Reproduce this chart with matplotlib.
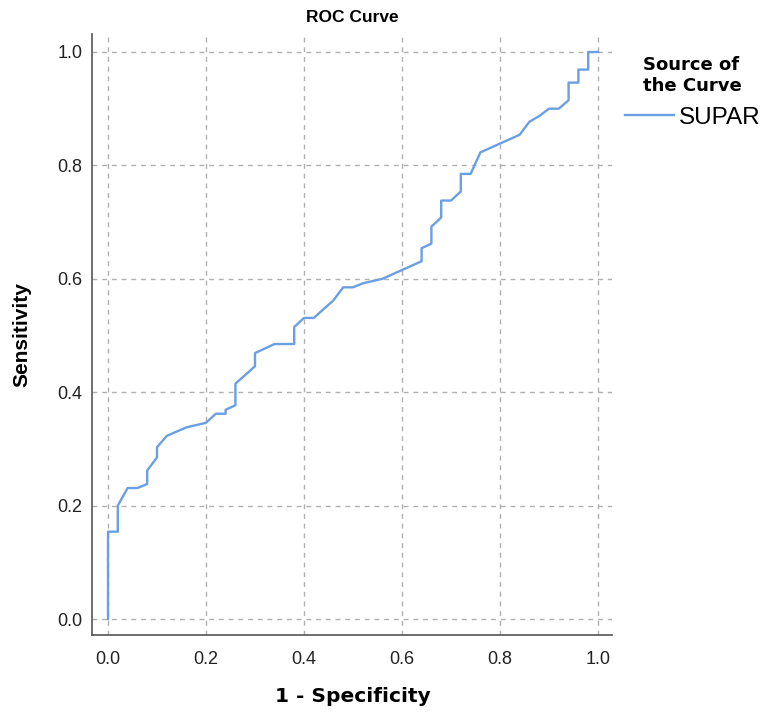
import matplotlib
matplotlib.use("Agg")
import matplotlib.pyplot as plt

fpr = [0.0, 0.0, 0.02, 0.02, 0.04, 0.06, 0.08, 0.08, 0.10, 0.10, 0.12, 0.16, 0.20,
       0.22, 0.24, 0.24, 0.26, 0.26, 0.29, 0.30, 0.30, 0.34, 0.38, 0.38, 0.40, 0.42,
       0.46, 0.48, 0.50, 0.52, 0.56, 0.64, 0.64, 0.66, 0.66, 0.68, 0.68, 0.70, 0.72,
       0.72, 0.74, 0.76, 0.84, 0.86, 0.88, 0.90, 0.92, 0.94, 0.94, 0.96, 0.96, 0.98,
       0.98, 1.0]
tpr = [0.0, 0.154, 0.154, 0.200, 0.231, 0.231, 0.238, 0.262, 0.285, 0.303, 0.323, 0.338,
       0.346, 0.362, 0.362, 0.369, 0.377, 0.415, 0.438, 0.446, 0.469, 0.485, 0.485, 0.515,
       0.531, 0.531, 0.562, 0.585, 0.585, 0.592, 0.600, 0.631, 0.654, 0.662, 0.692, 0.708,
       0.738, 0.738, 0.754, 0.785, 0.785, 0.823, 0.854, 0.877, 0.887, 0.900, 0.900, 0.915,
       0.946, 0.946, 0.969, 0.969, 1.0, 1.0]
ticks = [0.0, 0.2, 0.4, 0.6, 0.8, 1.0]
tick_labels = ["0.0", "0.2", "0.4", "0.6", "0.8", "1.0"]
series_name = "SUPAR"

plt.rcParams['font.family'] = ['Liberation Sans', 'DejaVu Sans']

W, H = 764, 719
fig = plt.figure(figsize=(W/100, H/100), dpi=100)
ax = fig.add_axes([92/W, 1 - 635/H, (612-92)/W, (635-34)/H])

ax.plot(fpr, tpr, color='#6a9fe3', lw=1.7, label=series_name)

ax.set_xlim(-16/490, 1 + 14/490)
ax.set_ylim(-16/567, 1 + 18/567)
ax.set_xticks(ticks)
ax.set_xticklabels(tick_labels)
ax.set_yticks(ticks)
ax.set_yticklabels(tick_labels)
ax.tick_params(axis='both', length=0, labelsize=13, colors='#222222')
ax.tick_params(axis='x', pad=11.5)
ax.tick_params(axis='y', pad=7)
ax.grid(True, linestyle=(0, (3.5, 3.5)), color='#b0b0b0', lw=1.0)
for s in ['top', 'right']:
    ax.spines[s].set_visible(False)
for s in ['left', 'bottom']:
    ax.spines[s].set_color('#555555')
    ax.spines[s].set_linewidth(1.2)

fig.text(352/W, 1 - 17/H, "ROC Curve", fontsize=12.5, fontweight='bold',
         ha='center', va='center')
fig.text(353/W, 1 - 697/H, "1 - Specificity", fontsize=14.5, fontweight='bold',
         family='DejaVu Sans', ha='center', va='center')
fig.text(22/W, 1 - 335/H, "Sensitivity", fontsize=15, fontweight='bold',
         rotation=90, ha='center', va='center')

leg = ax.legend(loc='upper left', bbox_to_anchor=(625/W, 1 - 56/H),
                bbox_transform=fig.transFigure, frameon=False,
                title="Source of\nthe Curve", fontsize=17.5, handlelength=2.0,
                handletextpad=0.2, borderaxespad=0.0, borderpad=0.0)
leg.get_title().set_fontweight('bold')
leg.get_title().set_fontsize(13)
leg.get_title().set_family('DejaVu Sans')

fig.savefig("out.png", dpi=100)
